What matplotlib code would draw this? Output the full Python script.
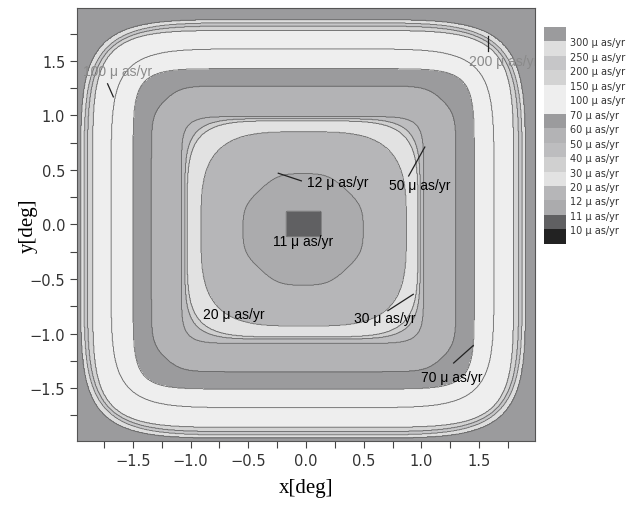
import numpy as np
import matplotlib.pyplot as plt
from matplotlib.colors import ListedColormap, BoundaryNorm

# ---------------------------------------------------------------------------
# Contour boundaries (µas/yr).  Each boundary is a
# rounded square: centre, half widths, corner chamfer and corner sharpness.
# ---------------------------------------------------------------------------
bound_levels = [11, 12, 20, 30, 40, 50, 60, 70, 100, 150, 200, 250, 300]
half_x    = [0.15, 0.525, 0.89, 1.00, 1.02, 1.05, 1.32, 1.48, 1.66, 1.825, 1.87, 1.90, 1.93]
half_y    = [0.115, 0.515, 0.89, 0.99, 1.01, 1.04, 1.31, 1.47, 1.645, 1.82, 1.86, 1.89, 1.92]
centre_x  = [-0.02, -0.025, -0.02, -0.03, -0.03, -0.03, -0.02, -0.02, -0.03, -0.025, -0.025, -0.025, -0.025]
centre_y  = [0.005, -0.045, -0.04, -0.04, -0.04, -0.05, -0.04, -0.04, -0.035, -0.04, -0.04, -0.04, -0.04]
chamfer   = [0.0, 0.30, 0.0, 0.0, 0.0, 0.0, 0.24, 0.0, 0.0, 0.0, 0.0, 0.0, 0.0]
sharpness = [40, 12, 3.5, 5, 6, 10, 30, 9, 6.5, 6.5, 6.0, 5.8, 6.0]

# value inside each band, innermost first
band_values = [10.5, 11.5, 16, 25, 35, 45, 55, 65, 85, 125, 175, 225, 275, 350]

# legend levels and band colours (lowest band first)
legend_levels = [10, 11, 12, 20, 30, 40, 50, 60, 70, 100, 150, 200, 250, 300]
band_colors = ["#222222", "#606062", "#ababad", "#b6b6b8", "#e2e2e2", "#d0d0d0",
               "#bdbdbf", "#b3b3b5", "#9b9b9d", "#eeeeee", "#eeeeee", "#d3d3d3",
               "#c6c6c8", "#dedede", "#9b9b9d"]

# in-plot labels: text, text position, leader line (x0, y0, x1, y1) or None, colour
label_texts  = ["100", "200", "12", "11", "50", "20", "30", "70"]
label_pos    = [(-1.93, 1.41), (1.41, 1.50), (0.01, 0.39), (-0.29, -0.15),
                (0.72, 0.36), (-0.89, -0.82), (0.42, -0.86), (1.00, -1.40)]
label_leader = [(-1.72, 1.29, -1.67, 1.17), (1.575, 1.73, 1.575, 1.59),
                (-0.24, 0.47, -0.04, 0.40), None,
                (1.03, 0.71, 0.89, 0.445), None,
                (0.71, -0.79, 0.93, -0.64), (1.28, -1.27, 1.45, -1.11)]
label_color  = ["#8a8a8a", "#8a8a8a", "k", "k", "k", "k", "k", "k"]

LIM = 1.985


def band_field(X, Y):
    """Number of boundaries each grid point lies outside of -> band value."""
    n_out = np.zeros(X.shape, dtype=int)
    for hx, hy, cx, cy, ch, p in zip(half_x, half_y, centre_x, centre_y,
                                     chamfer, sharpness):
        u = np.abs(X - cx) / hx
        v = np.abs(Y - cy) / hy
        g = u ** p + v ** p
        if ch > 0:
            s = (u + v) / (2 - 2 * ch / (hx + hy))
            g = g + s ** p
        g = g ** (1.0 / p)
        n_out += (g >= 1).astype(int)
    return np.asarray(band_values)[n_out]


xs = np.linspace(-LIM, LIM, 801)
X, Y = np.meshgrid(xs, xs)
Z = band_field(X, Y)

fill_levels = [0] + legend_levels + [1000]
cmap = ListedColormap(band_colors)
norm = BoundaryNorm(fill_levels, cmap.N)

fig = plt.figure(figsize=(6.38, 5.06), dpi=100)
ax = fig.add_axes([0.1207, 0.1265, 0.7178, 0.8557])

cf = ax.contourf(X, Y, Z, levels=fill_levels, cmap=cmap, norm=norm)
ax.contour(X, Y, Z, levels=legend_levels, colors="#666666", linewidths=0.6)

for txt, (tx, ty), lead, col in zip(label_texts, label_pos, label_leader, label_color):
    if lead is not None:
        ax.plot([lead[0], lead[2]], [lead[1], lead[3]], color="#222222", lw=0.9)
    ax.text(tx, ty, txt + " \u03bc as/yr", color=col, fontsize=10,
            family="Liberation Sans", ha="left", va="center", clip_on=True)

ax.set_xlim(-LIM, LIM)
ax.set_ylim(-LIM, LIM)
ax.set_xticks(np.arange(-1.5, 1.51, 0.5))
ax.set_yticks(np.arange(-1.5, 1.51, 0.5))
ax.set_xticks(np.arange(-1.75, 1.8, 0.25), minor=True)
ax.set_yticks(np.arange(-1.75, 1.8, 0.25), minor=True)
ax.tick_params(which="both", direction="out", length=5, width=0.8,
               color="#444444", labelsize=10.5, labelcolor="#333333")
ax.tick_params(top=False, right=False)
for side in ax.spines.values():
    side.set_color("#555555")
    side.set_linewidth(0.8)

ax.set_xlabel("x[deg]", family="Liberation Serif", fontsize=15)
ax.set_ylabel("y[deg]", family="Liberation Serif", fontsize=15)
ax.xaxis.set_label_coords(0.5, -0.085)
ax.yaxis.set_label_coords(-0.085, 0.5)

# discrete legend bar on the right
cax = fig.add_axes([0.8527, 0.516, 0.0345, 0.429])
cb = fig.colorbar(cf, cax=cax, ticks=legend_levels, spacing="uniform")
cb.outline.set_visible(False)
cb.ax.minorticks_off()
cb.ax.set_yticklabels([f"{v} \u03bc as/yr" for v in legend_levels])
cb.ax.tick_params(which="both", length=0, labelsize=7, pad=3, labelcolor="#333333")

fig.savefig("out.png", dpi=100)
